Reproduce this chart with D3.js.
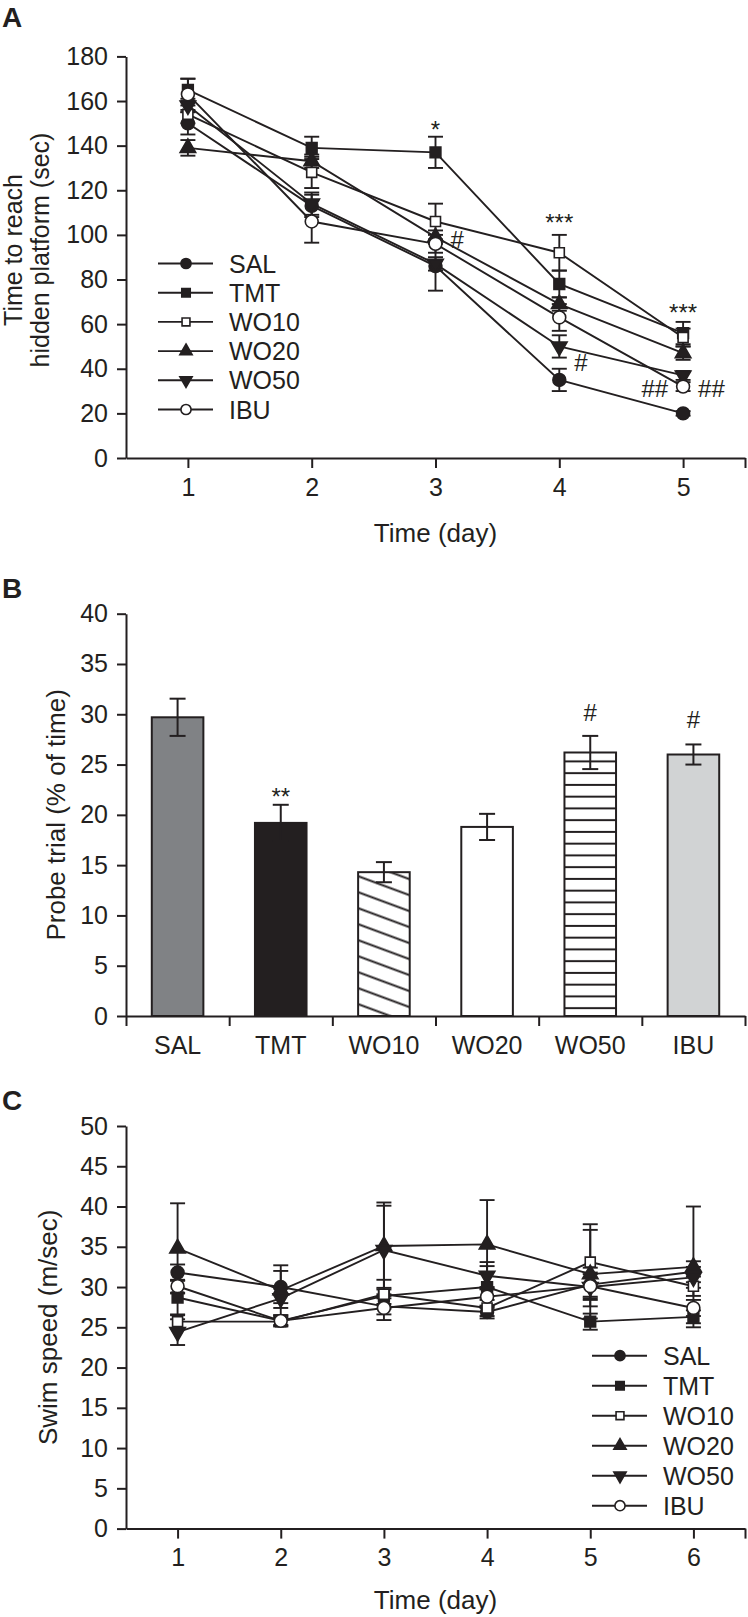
<!DOCTYPE html>
<html><head><meta charset="utf-8">
<script src="https://cdn.jsdelivr.net/npm/d3@7"></script>
<style>
body{margin:0;background:#fff;}
svg{display:block;}
text{font-family:"Liberation Sans",Arial,Helvetica,sans-serif;fill:#231f20;}
</style></head><body>
<svg id="chart" width="748" height="1617"></svg>
<script>
// ---------------- DATA ----------------
const groups = ["SAL","TMT","WO10","WO20","WO50","IBU"];

// Panel A: time to reach hidden platform (sec)
const daysA = [1,2,3,4,5];
const latSAL  = [150,113,86,35,20];  const latSALse  = [5,5,11,5,1];
const latTMT  = [165,139,137,78,56]; const latTMTse  = [5,5,7,6,5];
const latWO10 = [154,128,106,92,54]; const latWO10se = [4,7,8,8,4];
const latWO20 = [139,133,99,69,47];  const latWO20se = [3.5,3,3,3,3];
const latWO50 = [158,114,87,50,37];  const latWO50se = [3,5,3,5,2];
const latIBU  = [163,106,96,63,32];  const latIBUse  = [7,9.5,4,6,2];
const yTicksA = [0,20,40,60,80,100,120,140,160,180];
const annotAText = ["*","***","#","#","***","##","##"];
const annotADay  = [3,4,3,4,5,5,5];
const annotAVal  = [150,108,98,43,68,31,31];
const annotASide = ["above","above","right","right","above","left","right"];

// Panel B: probe trial (% of time)
const probeMean = [29.7,19.2,14.3,18.8,26.2,26.0];
const probeSE   = [1.85,1.8,1.0,1.3,1.65,1.0];
const probeMark = ["","**","","","#","#"];
const probeMarkVal = [0,22.4,0,0,30.2,29.5];
const yTicksB = [0,5,10,15,20,25,30,35,40];

// Panel C: swim speed (m/sec)
const daysC = [1,2,3,4,5,6];
const spdSAL  = [31.8,30.0,27.6,26.9,30.3,31.9]; const spdSALse  = [1.0,2.0,1.0,0.8,1.5,1.3];
const spdTMT  = [28.7,25.8,28.9,30.0,25.7,26.3]; const spdTMTse  = [2.1,0.7,1.0,2.6,1.0,0.8];
const spdWO10 = [25.7,25.7,29.1,27.4,33.1,30.1]; const spdWO10se = [0.8,0.5,1.8,1.0,4.7,1.2];
const spdWO20 = [34.8,29.6,35.1,35.3,31.6,32.5]; const spdWO20se = [5.6,3.1,5.4,5.5,5.5,7.5];
const spdWO50 = [24.4,28.6,34.6,31.4,30.0,31.2]; const spdWO50se = [1.6,1.2,5.5,1.7,2.4,1.3];
const spdIBU  = [30.1,25.8,27.4,28.8,30.1,27.4]; const spdIBUse  = [0.8,0.5,1.5,1.2,1.5,1.0];
const yTicksC = [0,5,10,15,20,25,30,35,40,45,50];

// ---------------- DRAW ----------------
const INK = "#231f20";
const svg = d3.select("#chart");
const symbolOf = {
  SAL:  {type:d3.symbolCircle, fill:INK, rot:0, size:130},
  TMT:  {type:d3.symbolSquare, fill:INK, rot:0, size:115},
  WO10: {type:d3.symbolSquare, fill:"#fff", rot:0, size:100},
  WO20: {type:d3.symbolTriangle, fill:INK, rot:0, size:105},
  WO50: {type:d3.symbolTriangle, fill:INK, rot:180, size:105},
  IBU:  {type:d3.symbolCircle, fill:"#fff", rot:0, size:130}
};

function styleAxis(g){
  g.select(".domain").attr("stroke",INK).attr("stroke-width",2);
  g.selectAll(".tick line").attr("stroke",INK).attr("stroke-width",2);
  g.selectAll(".tick text").attr("font-size",25).attr("fill",INK)
    .attr("font-family",'"Liberation Sans",Arial,sans-serif');
}

function drawMarker(g, name, x, y, scale){
  const s = symbolOf[name];
  g.append("path")
    .attr("d", d3.symbol().type(s.type).size(s.size*scale)())
    .attr("transform",`translate(${x},${y}) rotate(${s.rot})`)
    .attr("fill", s.fill).attr("stroke",INK).attr("stroke-width",1.6);
}

function linePanel(opts){
  const {x, y, days, series, errs, yTicks} = opts;
  const g = svg.append("g");
  const ax = g.append("g").attr("transform",`translate(${x.range()[0]},0)`)
    .call(d3.axisLeft(y).tickValues(yTicks).tickSize(9).tickPadding(9).tickSizeOuter(0));
  styleAxis(ax);
  const endTick = x.domain()[1];
  const bx = g.append("g").attr("transform",`translate(0,${y.range()[0]})`)
    .call(d3.axisBottom(x).tickValues(days.concat([endTick])).tickSize(10).tickPadding(10)
      .tickSizeOuter(0).tickFormat(d => d === endTick ? "" : d3.format("d")(d)));
  styleAxis(bx);
  const line = d3.line().x((d,i)=>x(days[i])).y(d=>y(d));
  groups.forEach((name,k)=>{
    g.append("path").datum(series[k]).attr("d",line)
      .attr("fill","none").attr("stroke",INK).attr("stroke-width",1.9);
  });
  groups.forEach((name,k)=>{
    series[k].forEach((v,i)=>{
      const cx = x(days[i]), e = errs[k][i];
      g.append("line").attr("x1",cx).attr("x2",cx).attr("y1",y(v-e)).attr("y2",y(v+e))
        .attr("stroke",INK).attr("stroke-width",1.9);
      [v-e, v+e].forEach(t=>{
        g.append("line").attr("x1",cx-7.5).attr("x2",cx+7.5).attr("y1",y(t)).attr("y2",y(t))
          .attr("stroke",INK).attr("stroke-width",1.9);
      });
    });
  });
  groups.forEach((name,k)=>{
    series[k].forEach((v,i)=> drawMarker(g, name, x(days[i]), y(v), 1));
  });
  return g;
}

function legend(x0, y0, step){
  const g = svg.append("g");
  groups.forEach((name,k)=>{
    const yy = y0 + k*step;
    g.append("line").attr("x1",x0).attr("x2",x0+55).attr("y1",yy).attr("y2",yy)
      .attr("stroke",INK).attr("stroke-width",1.9);
    drawMarker(g, name, x0+28, yy, 0.62);
    g.append("text").attr("x",x0+71).attr("y",yy).attr("dy","0.36em")
      .attr("font-size",25).text(name);
  });
}

// ===== Panel A =====
const xA = d3.scaleLinear().domain([0.5,5.5]).range([126,745]);
const yA = d3.scaleLinear().domain([0,180]).range([458,56.4]);
const gA = linePanel({x:xA, y:yA, days:daysA,
  series:[latSAL,latTMT,latWO10,latWO20,latWO50,latIBU],
  errs:[latSALse,latTMTse,latWO10se,latWO20se,latWO50se,latIBUse],
  yTicks:yTicksA});
legend(158, 263.5, 29.2);
annotAText.forEach((t,i)=>{
  const side = annotASide[i];
  const dx = side==="right" ? 15 : side==="left" ? -15 : 0;
  gA.append("text").attr("x",xA(annotADay[i])+dx).attr("y",yA(annotAVal[i]))
    .attr("dy", t.includes("*") ? "0.6em" : "0.36em")
    .attr("text-anchor", side==="right" ? "start" : side==="left" ? "end" : "middle")
    .attr("font-size",24).text(t);
});
svg.append("text").attr("x",2).attr("y",27).attr("font-size",28).attr("font-weight","bold").text("A");
svg.append("text").attr("transform","translate(21.5,250) rotate(-90)").attr("text-anchor","middle")
  .attr("font-size",25).text("Time to reach");
svg.append("text").attr("transform","translate(49,250) rotate(-90)").attr("text-anchor","middle")
  .attr("font-size",25).text("hidden platform (sec)");
svg.append("text").attr("x",(126+745)/2).attr("y",542).attr("text-anchor","middle")
  .attr("font-size",26).text("Time (day)");

// ===== Panel B =====
const defs = svg.append("defs");
const hatch = defs.append("pattern").attr("id","hatchDiag").attr("patternUnits","userSpaceOnUse")
  .attr("width",20).attr("height",15).attr("patternTransform","rotate(20.3)");
hatch.append("rect").attr("width",20).attr("height",15).attr("fill","#fff");
hatch.append("line").attr("x1",0).attr("x2",20).attr("y1",7.5).attr("y2",7.5)
  .attr("stroke",INK).attr("stroke-width",2);
const xB = d3.scaleBand().domain(groups).range([126,745]).paddingInner(0.5).paddingOuter(0.25);
const yB = d3.scaleLinear().domain([0,40]).range([1016,613.7]);
const stripe = defs.append("pattern").attr("id","hStripe").attr("patternUnits","userSpaceOnUse")
  .attr("width",20).attr("height",11.75).attr("y",yB(0));
stripe.append("rect").attr("width",20).attr("height",11.75).attr("fill","#fff");
stripe.append("line").attr("x1",0).attr("x2",20).attr("y1",3.9).attr("y2",3.9)
  .attr("stroke",INK).attr("stroke-width",2);
const barFill = {SAL:"#808285", TMT:"#231f20", WO10:"url(#hatchDiag)", WO20:"#ffffff",
                 WO50:"url(#hStripe)", IBU:"#d1d3d4"};
const gB = svg.append("g");
const ayB = gB.append("g").attr("transform","translate(126,0)")
  .call(d3.axisLeft(yB).tickValues(yTicksB).tickSize(9).tickPadding(9).tickSizeOuter(0));
styleAxis(ayB);
const axB = gB.append("g").attr("transform",`translate(0,${yB(0)})`)
  .call(d3.axisBottom(xB).tickSize(0).tickPadding(20).tickSizeOuter(0));
styleAxis(axB);
axB.selectAll(".tick line").remove();
const xBound = d3.scaleLinear().domain([0,groups.length]).range([126,745]);
const tkB = gB.append("g").attr("transform",`translate(0,${yB(0)})`)
  .call(d3.axisBottom(xBound).tickValues(d3.range(groups.length+1)).tickSize(10).tickFormat(()=>"").tickSizeOuter(0));
styleAxis(tkB);
tkB.select(".domain").remove();
groups.forEach((name,i)=>{
  gB.append("rect").attr("x",xB(name)).attr("width",xB.bandwidth())
    .attr("y",yB(probeMean[i])).attr("height",yB(0)-yB(probeMean[i]))
    .attr("fill",barFill[name]).attr("stroke",INK).attr("stroke-width",2);
});
groups.forEach((name,i)=>{
  const cx = xB(name)+xB.bandwidth()/2;
  const lo = probeMean[i]-probeSE[i], hi = probeMean[i]+probeSE[i];
  gB.append("line").attr("x1",cx).attr("x2",cx).attr("y1",yB(lo)).attr("y2",yB(hi))
    .attr("stroke",INK).attr("stroke-width",2);
  [lo,hi].forEach(t=>gB.append("line").attr("x1",cx-8).attr("x2",cx+8).attr("y1",yB(t)).attr("y2",yB(t))
    .attr("stroke",INK).attr("stroke-width",2));
  if(probeMark[i]){
    gB.append("text").attr("x",cx).attr("y",yB(probeMarkVal[i]))
      .attr("dy", probeMark[i].includes("*") ? "0.6em" : "0.36em")
      .attr("text-anchor","middle").attr("font-size",24).text(probeMark[i]);
  }
});
svg.append("text").attr("x",2).attr("y",598).attr("font-size",28).attr("font-weight","bold").text("B");
svg.append("text").attr("transform",`translate(64.5,${(613.7+1016)/2}) rotate(-90)`).attr("text-anchor","middle")
  .attr("font-size",26).text("Probe trial (% of time)");

// ===== Panel C =====
const xC = d3.scaleLinear().domain([0.5,6.5]).range([126,745]);
const yC = d3.scaleLinear().domain([0,50]).range([1528.6,1126]);
linePanel({x:xC, y:yC, days:daysC,
  series:[spdSAL,spdTMT,spdWO10,spdWO20,spdWO50,spdIBU],
  errs:[spdSALse,spdTMTse,spdWO10se,spdWO20se,spdWO50se,spdIBUse],
  yTicks:yTicksC});
legend(592, 1355.7, 30);
svg.append("text").attr("x",2).attr("y",1110).attr("font-size",28).attr("font-weight","bold").text("C");
svg.append("text").attr("transform",`translate(56.7,${(1126+1528.6)/2}) rotate(-90)`).attr("text-anchor","middle")
  .attr("font-size",26).text("Swim speed (m/sec)");
svg.append("text").attr("x",(126+745)/2).attr("y",1609).attr("text-anchor","middle")
  .attr("font-size",26).text("Time (day)");
</script>
</body></html>
